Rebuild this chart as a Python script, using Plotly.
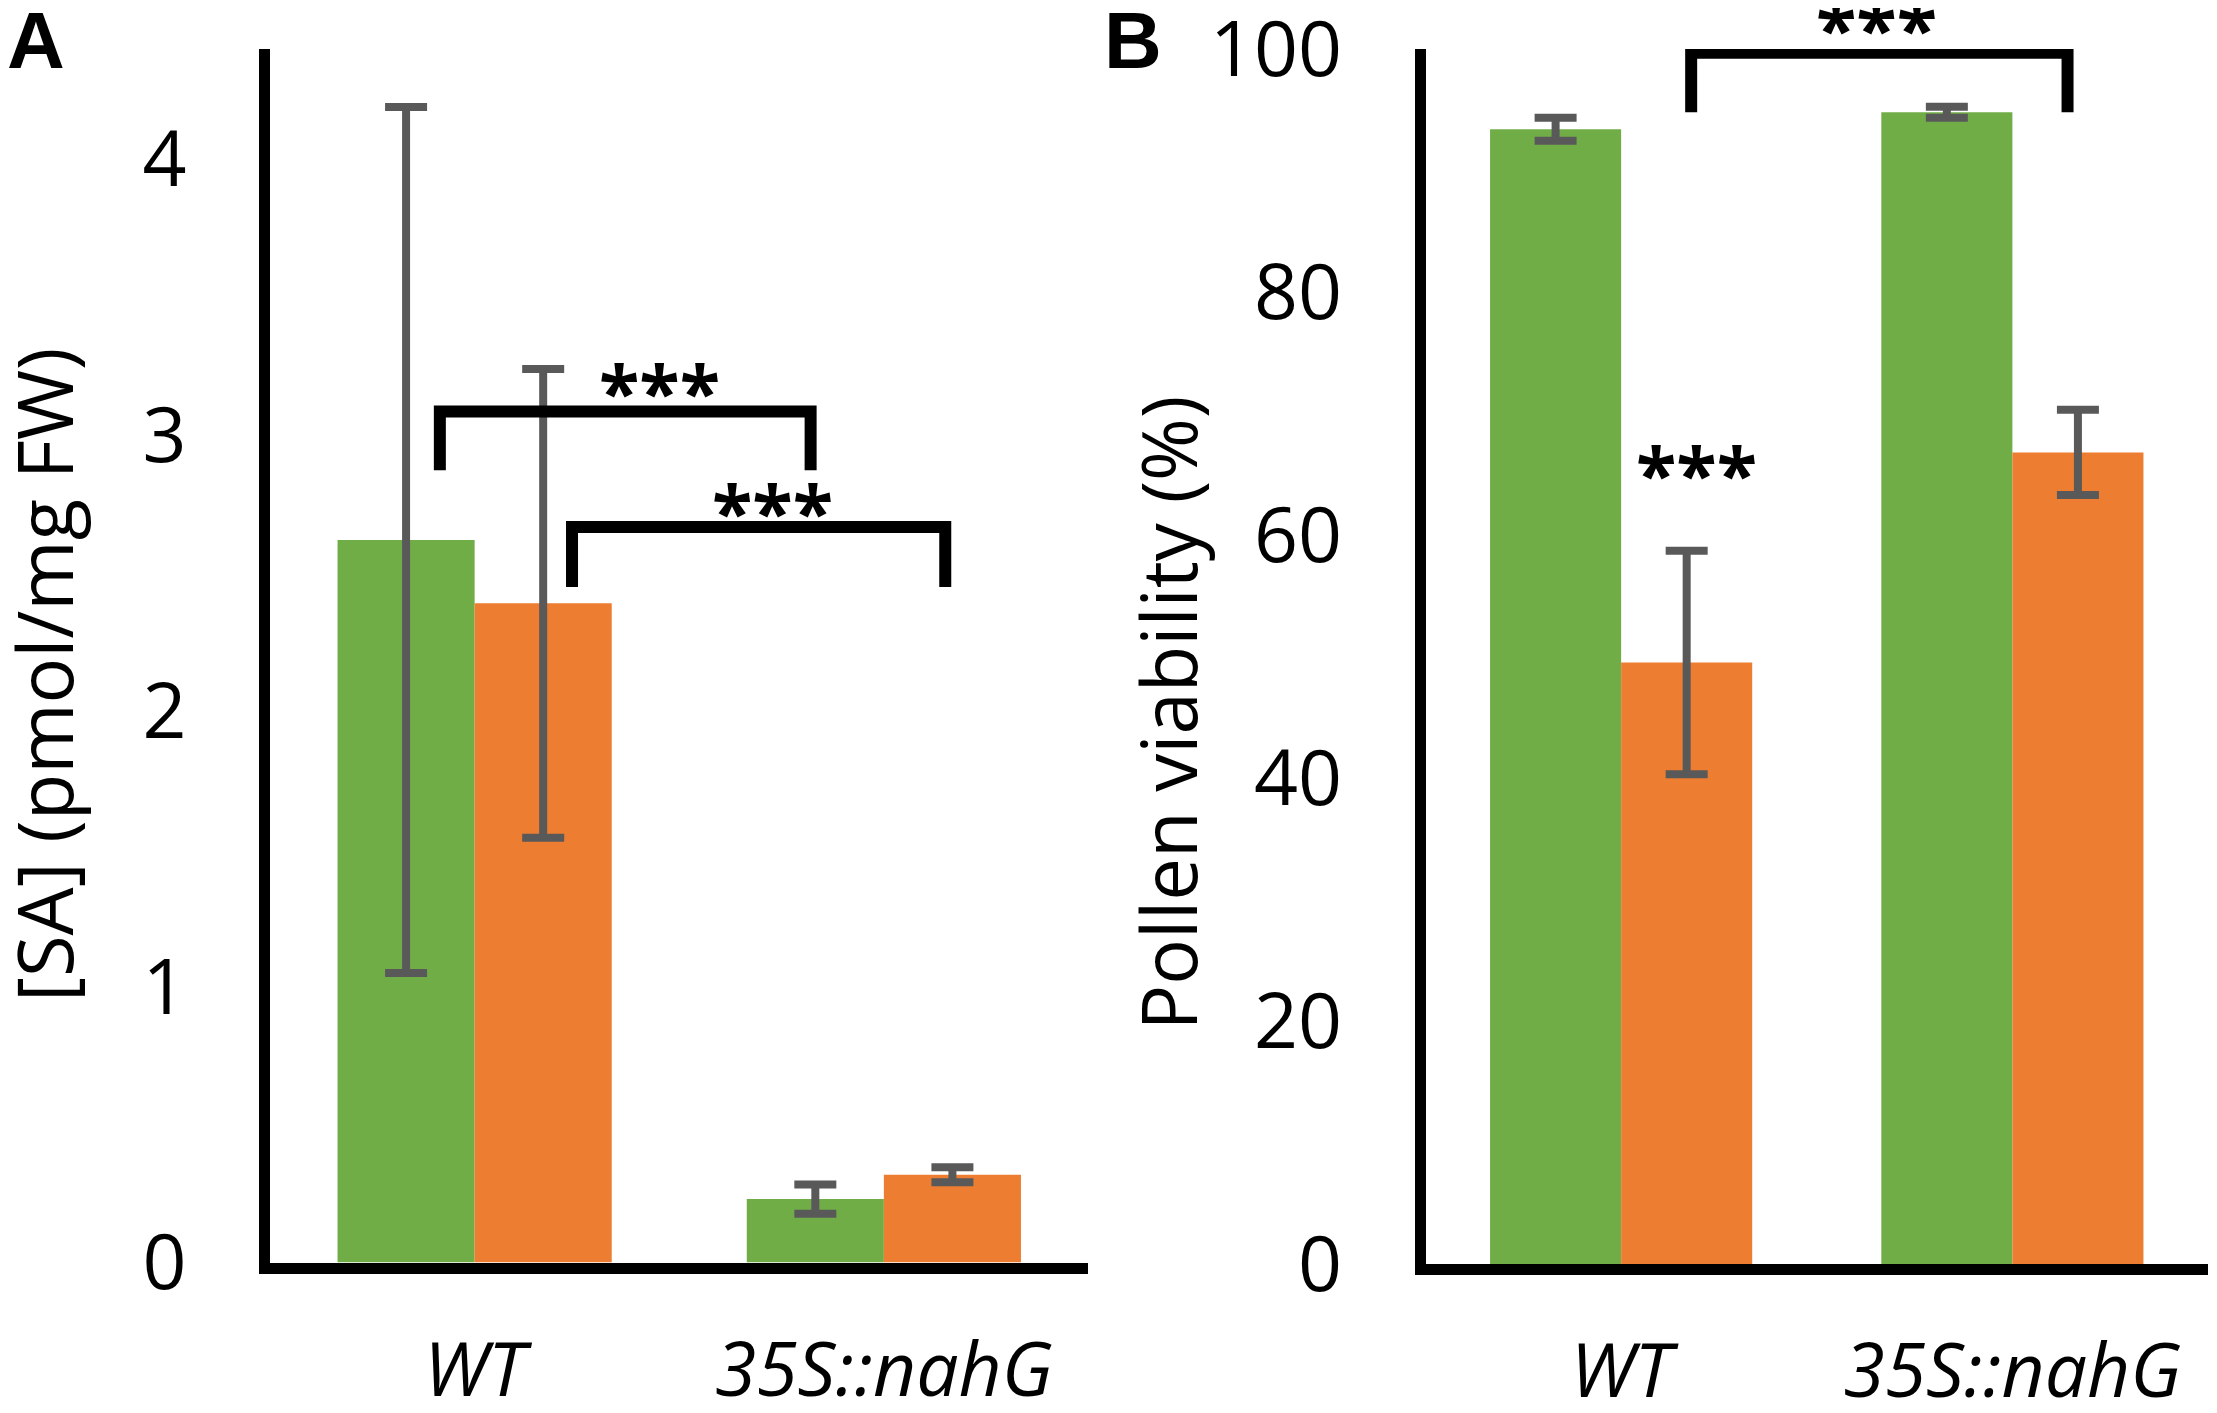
import plotly.graph_objects as go

# ---------------- data ----------------
categories = ["WT", "35S::nahG"]
cat_pos = [0, 1]

# Panel A: [SA] (pmol/mg FW)
sa_control = [2.62, 0.23]
sa_control_err = [1.57, 0.053]
sa_treat = [2.39, 0.318]
sa_treat_err = [0.85, 0.027]

# Panel B: Pollen viability (%)
pv_control = [93.4, 94.8]
pv_control_err = [0.95, 0.45]
pv_treat = [49.5, 66.8]
pv_treat_err = [9.2, 3.5]

# significance brackets (x0, x1, y_top, y_bottom) in data units
brackets_a = [(-0.085, 0.821, 3.086, 2.873), (0.238, 1.150, 2.667, 2.449)]
stars_a = [(0.451, 3.185), (0.727, 2.748)]
brackets_b = [(0.179, 1.141, 99.7, 94.8)]
stars_b = [(0.653, 102.3), (0.192, 65.6)]

GREEN = "#70AD47"
ORANGE = "#ED7D31"
ERR = "#595959"
FONT = "Open Sans"

# page body has an 8px default margin; the figure is sized to fit inside it
W, H = 2201, 1397

fig = go.Figure()

def add_bars(xa, ya, ctrl, ctrl_err, trt, trt_err):
    fig.add_trace(go.Bar(x=cat_pos, y=ctrl, marker=dict(color=GREEN, line=dict(width=0)),
                         error_y=dict(type="data", array=ctrl_err, color=ERR, thickness=8, width=21),
                         xaxis=xa, yaxis=ya, showlegend=False))
    fig.add_trace(go.Bar(x=cat_pos, y=trt, marker=dict(color=ORANGE, line=dict(width=0)),
                         error_y=dict(type="data", array=trt_err, color=ERR, thickness=8, width=21),
                         xaxis=xa, yaxis=ya, showlegend=False))

add_bars("x", "y", sa_control, sa_control_err, sa_treat, sa_treat_err)
add_bars("x2", "y2", pv_control, pv_control_err, pv_treat, pv_treat_err)

shapes = []
for (x0, x1, yt, yb), xr, yr in [(b, "x", "y") for b in brackets_a] + [(b, "x2", "y2") for b in brackets_b]:
    shapes.append(dict(type="path", xref=xr, yref=yr,
                       path=f"M {x0},{yb} L {x0},{yt} L {x1},{yt} L {x1},{yb}",
                       line=dict(color="black", width=12)))

Y_RANGES = {"y": (0, 4.4), "y2": (0, 100)}

annotations = []
for (sx, sy), xr, yr in [(s, "x", "y") for s in stars_a] + [(s, "x2", "y2") for s in stars_b]:
    lo, hi = Y_RANGES[yr]
    # express in axis-domain fraction so stars above the range stay visible
    frac = (sy - lo) / (hi - lo)
    annotations.append(dict(x=sx, y=frac, xref=xr, yref=f"{yr} domain", text="<b>***</b>",
                            showarrow=False, xanchor="center", yanchor="middle", yshift=-6,
                            font=dict(family=FONT, size=74, color="black")))

# axis titles
annotations.append(dict(x=0.01636, y=0.5226, xref="paper", yref="paper", text="[SA] (pmol/mg FW)",
                        textangle=-90, showarrow=False, xanchor="center", yanchor="middle",
                        font=dict(family=FONT, size=76, color="black")))
annotations.append(dict(x=0.52703, y=0.4957, xref="paper", yref="paper", text="Pollen viability (%)",
                        textangle=-90, showarrow=False, xanchor="center", yanchor="middle",
                        font=dict(family=FONT, size=76, color="black")))
# panel letters
annotations.append(dict(x=0.0, y=1.0, xref="paper", yref="paper", text="<b>A</b>", showarrow=False,
                        xanchor="left", yanchor="top", yshift=14, xshift=-3,
                        font=dict(family="Liberation Sans", size=80, color="black")))
annotations.append(dict(x=0.5025, y=1.0, xref="paper", yref="paper", text="<b>B</b>", showarrow=False,
                        xanchor="left", yanchor="top", yshift=14, xshift=-12,
                        font=dict(family="Liberation Sans", size=80, color="black")))

cat_text = [f"<i>{c}</i>" for c in categories]
xaxis_common = dict(range=[-0.5, 1.5], tickvals=cat_pos, ticktext=cat_text, showgrid=False,
                    zeroline=False, showline=True, linecolor="black", linewidth=11, ticks="",
                    tickfont=dict(family=FONT, size=75, color="black"), ticklabelstandoff=32,
                    ticklabeloverflow="allow", automargin=False, fixedrange=True)
yaxis_common = dict(showgrid=False, zeroline=False, showline=True, linecolor="black", linewidth=11,
                    ticks="", tickfont=dict(family=FONT, size=77, color="black"),
                    ticklabelstandoff=57, ticklabeloverflow="allow", automargin=False)

fig.update_layout(
    width=W, height=H,
    margin=dict(l=0, r=0, t=0, b=0, autoexpand=False),
    paper_bgcolor="white", plot_bgcolor="white",
    barmode="group", bargap=0.33, bargroupgap=0,
    xaxis=dict(domain=[0.11904, 0.49091], anchor="y", **xaxis_common),
    yaxis=dict(domain=[0.1020, 0.97065], anchor="x", range=list(Y_RANGES["y"]),
               tickvals=[0, 1, 2, 3, 4], **yaxis_common),
    xaxis2=dict(domain=[0.64403, 0.99955], anchor="y2", **xaxis_common),
    yaxis2=dict(domain=[0.10093, 0.97065], anchor="x2", range=list(Y_RANGES["y2"]),
                tickvals=[0, 20, 40, 60, 80, 100], **yaxis_common),
    shapes=shapes,
    annotations=annotations,
    showlegend=False,
)

fig.write_html("out.html")
